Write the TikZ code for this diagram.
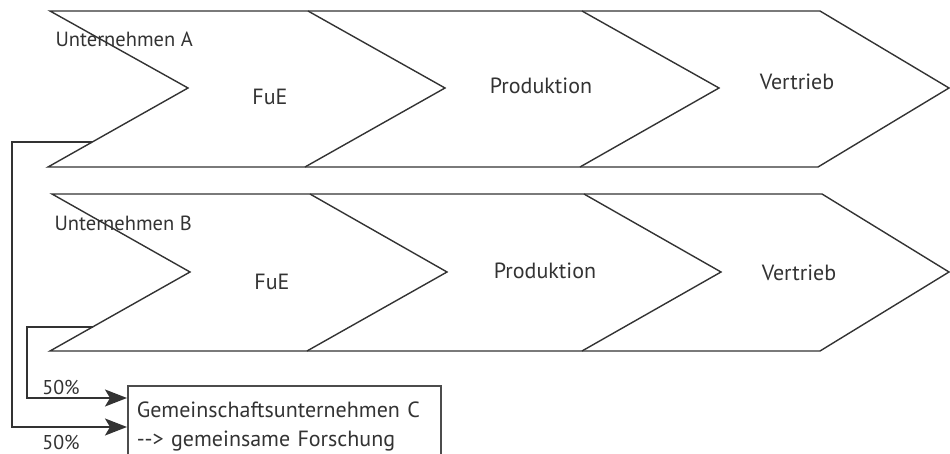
\documentclass[tikz,border=0pt]{standalone}
\usepackage{fontspec}
\setmainfont{PT Sans}
\usetikzlibrary{arrows.meta}

\definecolor{ink}{gray}{0.2}
\tikzset{
  outline/.style={line width=1.4pt, draw=black!80},
  lbl/.style={text=ink, font=\fontsize{22}{29}\selectfont},
  firm/.style={lbl, anchor=west, font=\fontsize{20.5}{24}\selectfont},
  feed/.style={outline, -{Stealth[length=22pt,width=17pt,inset=5pt]}},
}

\begin{document}
\begin{tikzpicture}[x=1pt, y=-1pt]
  \useasboundingbox (0,0) rectangle (950,454);

  % the two value chains, one chevron row each
  \foreach \row/\t/\m/\b/\dx in {A/11/88/167/0, B/194/272/351/2} {
    \draw[outline] (50+\dx,\t) -- (820+\dx,\t) -- (949,\m) -- (818+\dx,\b)
      -- (48+\dx,\b) -- (188+\dx,\m) -- cycle;
    \draw[outline] (308+\dx,\t) -- (445+\dx,\m) -- (305+\dx,\b);
    \draw[outline] (582+\dx,\t) -- (719+\dx,\m) -- (580+\dx,\b);
  }

  \node[firm] (nameA) at (52,39)  {Unternehmen A};
  \node[lbl] (fueA)  at (270,97) {FuE};
  \node[lbl] (prodA) at (541,86) {Produktion};
  \node[lbl] (vertA) at (797,82) {Vertrieb};

  \node[firm] (nameB) at (51,223) {Unternehmen B};
  \node[lbl] (fueB)  at (272,282) {FuE};
  \node[lbl] (prodB) at (545,271) {Produktion};
  \node[lbl] (vertB) at (799,273) {Vertrieb};

  % joint venture, runs past the lower edge
  \node[lbl, draw=black!70, line width=1.6pt, anchor=north west, align=left,
        text width=295pt, inner xsep=9pt, inner ysep=4pt, minimum height=82pt]
    (jv) at (127,385) {Gemeinschaftsunternehmen C\\-{}-> gemeinsame Forschung};

  \coordinate (outA) at (92,142);
  \coordinate (outB) at (93,327);
  \coordinate (inA) at ([yshift=-42pt]jv.north west);
  \coordinate (inB) at ([yshift=-13pt]jv.north west);

  \draw[feed] (outA) -- ++(-80,0) |- (inA);
  \draw[feed] (outB) -- ++(-66,0) |- (inB);

  \node[lbl, font=\fontsize{20}{24}\selectfont] (shareB) at (61,387) {50\%};
  \node[lbl, font=\fontsize{20}{24}\selectfont] (shareA) at (61,442) {50\%};
\end{tikzpicture}
\end{document}
